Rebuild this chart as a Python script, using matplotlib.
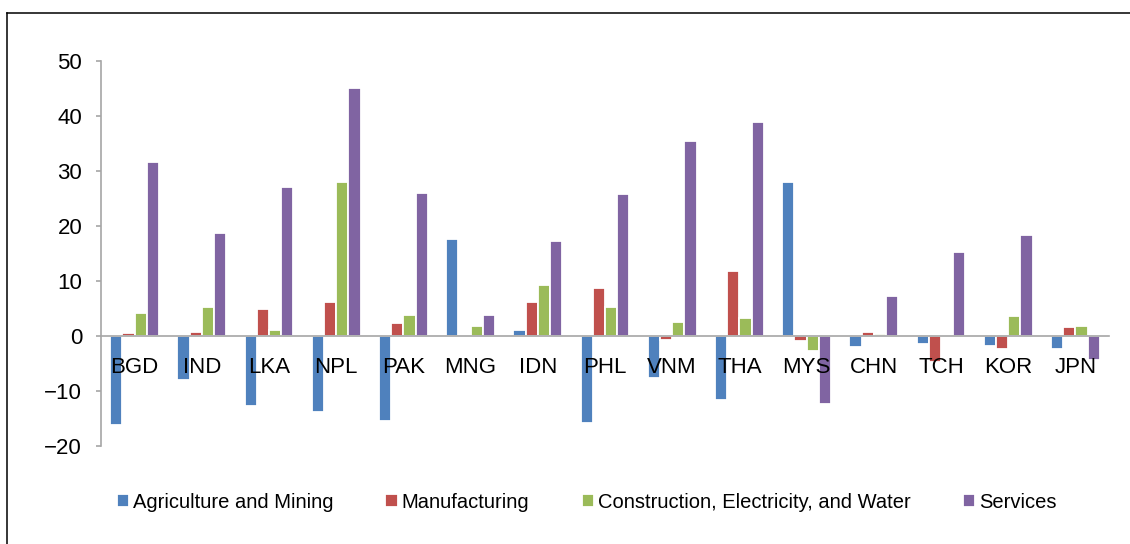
import matplotlib
matplotlib.use('Agg')
import matplotlib.pyplot as plt
import numpy as np
from matplotlib.lines import Line2D

# data
countries = ['BGD', 'IND', 'LKA', 'NPL', 'PAK', 'MNG', 'IDN', 'PHL', 'VNM',
             'THA', 'MYS', 'CHN', 'TCH', 'KOR', 'JPN']
agri = [-16.3, -8.0, -12.7, -13.9, -15.5, 17.5, 1.0, -15.9, -7.6,
        -11.7, 27.9, -2.1, -1.5, -1.8, -2.4]
manuf = [0.5, 0.7, 4.8, 6.2, 2.3, -0.2, 6.1, 8.7, -0.8,
         11.7, -1.0, 0.6, -4.8, -2.5, 1.6]
constr = [4.1, 5.3, 1.0, 27.9, 3.8, 1.8, 9.2, 5.2, 2.5,
          3.2, -2.7, 0.3, 0.0, 3.5, 1.7]
services = [31.6, 18.6, 27.0, 45.0, 25.9, 3.8, 17.2, 25.8, 35.4,
            38.9, -12.5, 7.3, 15.3, 18.4, -4.5]

series = [
    ('Agriculture and Mining', agri, '#4F81BD'),
    ('Manufacturing', manuf, '#C0504D'),
    ('Construction, Electricity, and Water', constr, '#9BBB59'),
    ('Services', services, '#8064A2'),
]

plt.rcParams['font.family'] = ['Liberation Sans', 'DejaVu Sans']

fig = plt.figure(figsize=(11.3, 5.44), dpi=100)
ax = fig.add_axes([0.0894, 0.1807, 0.892, 0.7077])

x = np.arange(len(countries))
w = 0.1815
for i, (name, vals, col) in enumerate(series):
    ax.bar(x + (i - 1.5) * w, vals, width=w, color=col, edgecolor='white',
           linewidth=1.3, label=name)

ax.set_xlim(-0.5, len(countries) - 0.5)
ax.set_ylim(-20, 50)
ax.set_yticks(range(-20, 51, 10))

axis_gray = '#A6A6A6'
ax.spines['top'].set_visible(False)
ax.spines['right'].set_visible(False)
ax.spines['bottom'].set_position(('data', 0))
ax.spines['bottom'].set_color(axis_gray)
ax.spines['left'].set_color(axis_gray)
ax.spines['bottom'].set_linewidth(1.2)
ax.spines['left'].set_linewidth(1.2)

ax.set_xticks(x)
ax.set_xticklabels(countries)
ax.tick_params(axis='x', length=0, pad=15, labelsize=16)
ax.tick_params(axis='y', direction='out', length=3.6, width=1.2,
               color=axis_gray, pad=10, labelsize=16)

ax.legend(loc='center', bbox_to_anchor=(0.519, 0.077),
          bbox_transform=fig.transFigure, ncol=4, frameon=False,
          fontsize=14.5, handlelength=0.6, handleheight=0.6,
          handletextpad=0.2, columnspacing=2.6)

# chart frame (top and left edges visible in the reference)
W, H = 1130, 544
fig.add_artist(Line2D([7 / W, 1], [1 - 13.3 / H, 1 - 13.3 / H],
                      transform=fig.transFigure, color='black', linewidth=1.1))
fig.add_artist(Line2D([7.3 / W, 7.3 / W], [0, 1 - 13.3 / H],
                      transform=fig.transFigure, color='black', linewidth=1.1))

fig.savefig('out.png', dpi=100)
